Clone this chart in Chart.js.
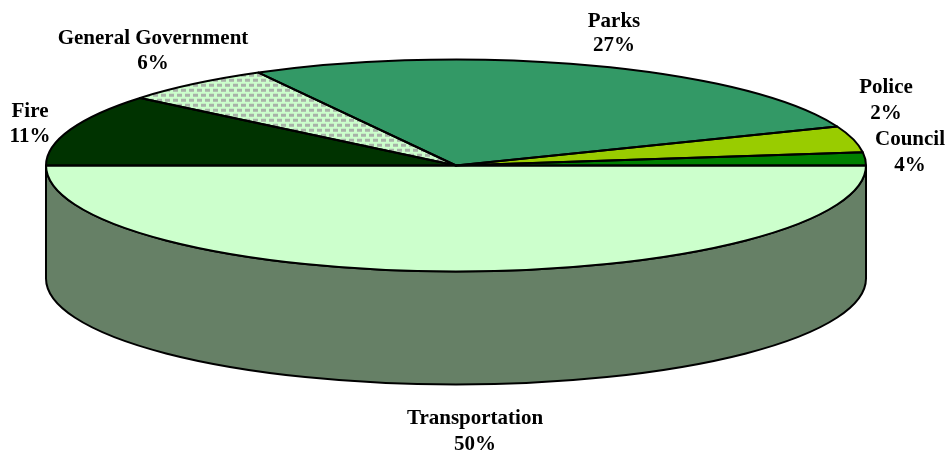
<!DOCTYPE html>
<html lang="en">
<head>
    <title>Budget by department</title>
    <meta charset="UTF-8">
    <script src="https://cdn.jsdelivr.net/npm/chart.js"></script>
    <style>
        html, body { margin: 0; padding: 0; background: #fff; overflow: hidden; }
        canvas { display: block; }
    </style>
</head>
<body>
    <canvas id="chart" width="947" height="453"></canvas>
    <script>
        // Slices run clockwise from the right-hand edge
        const categories = ['Transportation', 'Fire', 'General Government', 'Parks', 'Council', 'Police'];
        const shares = [50, 11, 6, 27, 4, 2];

        // Label centres, two lines each: [x, name y, percent y]
        const labelSpots = {
            'Transportation': [475, 419, 445],
            'Fire': [30, 112, 137],
            'General Government': [153, 39, 64],
            'Parks': [614, 22, 46],
            'Council': [910, 140, 166],
            'Police': [886, 88, 114]
        };

        // Shape of the tilted disc
        const disc = { x: 456, y: 165.5, rx: 410, ry: 106, depth: 113 };
        const squash = disc.ry / disc.rx;

        // Dotted fill for General Government
        function dotPattern() {
            const tile = document.createElement('canvas');
            tile.width = 8;
            tile.height = 10;
            const t = tile.getContext('2d');
            t.fillStyle = '#ccffcc';
            t.fillRect(0, 0, 8, 10);
            t.fillStyle = '#a8b2a8';
            t.fillRect(1, 1, 5, 3);
            t.fillRect(5, 6, 3, 3);
            t.fillRect(0, 6, 2, 3);
            const p = document.getElementById('chart').getContext('2d').createPattern(tile, 'repeat');
            p.setTransform(new DOMMatrix().scale(1, 1 / squash));
            return p;
        }

        const colors = ['#ccffcc', '#003300', dotPattern(), '#339966', '#99cc00', '#008000'];

        function tilt(ctx) {
            ctx.translate(disc.x, disc.y);
            ctx.scale(1, squash);
            ctx.translate(-disc.x, -disc.y);
        }

        const tiltedPie = {
            id: 'tiltedPie',
            // the pie is laid out flat at full width, then squashed when drawn
            afterDatasetsUpdate(chart) {
                chart.getDatasetMeta(0).data.forEach(arc => {
                    arc.x = disc.x;
                    arc.y = disc.y;
                    arc.outerRadius = disc.rx;
                });
            },
            beforeDatasetsDraw(chart) {
                const ctx = chart.ctx;
                // side wall under the front half
                ctx.save();
                ctx.beginPath();
                ctx.ellipse(disc.x, disc.y + disc.depth, disc.rx, disc.ry, 0, 0, Math.PI);
                ctx.lineTo(disc.x - disc.rx, disc.y);
                ctx.ellipse(disc.x, disc.y, disc.rx, disc.ry, 0, Math.PI, 0, true);
                ctx.closePath();
                ctx.fillStyle = '#668066';
                ctx.fill();
                ctx.strokeStyle = '#000';
                ctx.lineWidth = 2;
                ctx.stroke();
                ctx.restore();
                ctx.save();
                tilt(ctx);
            },
            afterDatasetsDraw(chart) {
                const ctx = chart.ctx;
                ctx.restore();
                // outlines are stroked unsquashed so the line keeps its width
                chart.getDatasetMeta(0).data.forEach(arc => {
                    ctx.save();
                    tilt(ctx);
                    ctx.beginPath();
                    ctx.moveTo(arc.x, arc.y);
                    ctx.arc(arc.x, arc.y, arc.outerRadius, arc.startAngle, arc.endAngle);
                    ctx.closePath();
                    ctx.restore();
                    ctx.strokeStyle = '#000';
                    ctx.lineWidth = 2;
                    ctx.lineJoin = 'round';
                    ctx.stroke();
                });

                ctx.save();
                ctx.fillStyle = '#000';
                ctx.font = 'bold 21px "Liberation Serif"';
                ctx.textAlign = 'center';
                ctx.textBaseline = 'middle';
                categories.forEach((name, i) => {
                    const [x, y1, y2] = labelSpots[name];
                    ctx.fillText(name, x, y1);
                    ctx.fillText(shares[i] + '%', x, y2);
                });
                ctx.restore();
            }
        };

        const chart = new Chart(document.getElementById('chart'), {
            type: 'pie',
            data: {
                labels: categories,
                datasets: [{
                    data: shares,
                    backgroundColor: colors,
                    borderWidth: 0
                }]
            },
            options: {
                responsive: false,
                animation: false,
                rotation: 90,
                plugins: {
                    legend: { display: false },
                    tooltip: { enabled: false }
                }
            },
            plugins: [tiltedPie]
        });
    </script>
</body>
</html>
